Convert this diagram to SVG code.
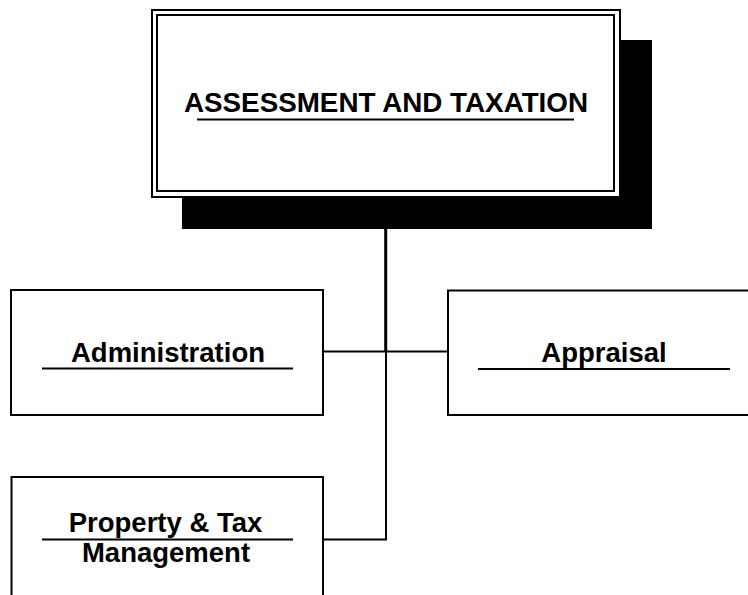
<svg xmlns="http://www.w3.org/2000/svg" width="748" height="595" viewBox="0 0 748 595">
<style>
.box{fill:#fff;stroke:#000;stroke-width:2}
.t{font-family:"Liberation Sans",Arial,sans-serif;font-weight:bold;fill:#000;text-anchor:middle}
.u{stroke:#000;stroke-width:2.2}
.c{stroke:#000;fill:none}
</style>
<rect width="748" height="595" fill="#fff"/>
<g id="connectors">
<line class="c" x1="385.7" y1="228" x2="385.7" y2="351.5" stroke-width="3"/>
<polyline class="c" points="386,351.5 386,539.5 323,539.5" stroke-width="2"/>
<line class="c" x1="323" y1="351.5" x2="448" y2="351.5" stroke-width="2"/>
</g>
<g id="node-assessment">
<rect x="182" y="40" width="470" height="189" fill="#000"/>
<rect class="box" x="152" y="10" width="468" height="187"/>
<rect class="box" x="157" y="15" width="457" height="176"/>
<text class="t" x="386" y="111.5" font-size="27.8">ASSESSMENT AND TAXATION</text>
<line class="u" x1="197" y1="119.5" x2="574" y2="119.5"/>
</g>
<g id="node-administration">
<rect class="box" x="11" y="290" width="312" height="125"/>
<text class="t" x="168" y="361.5" font-size="27.5">Administration</text>
<line class="u" x1="42" y1="368.5" x2="293" y2="368.5"/>
</g>
<g id="node-appraisal">
<rect class="box" x="448" y="290.5" width="302" height="124.5"/>
<text class="t" x="604" y="361.5" font-size="27.5">Appraisal</text>
<line class="u" x1="478" y1="369" x2="730" y2="369"/>
</g>
<g id="node-property">
<rect class="box" x="11.5" y="477" width="311.5" height="130"/>
<text class="t" x="165.5" y="531.5" font-size="27.5">Property &amp; Tax</text>
<line class="u" x1="42" y1="539.5" x2="293" y2="539.5"/>
<text class="t" x="166" y="561.5" font-size="27.5">Management</text>
</g>
</svg>
